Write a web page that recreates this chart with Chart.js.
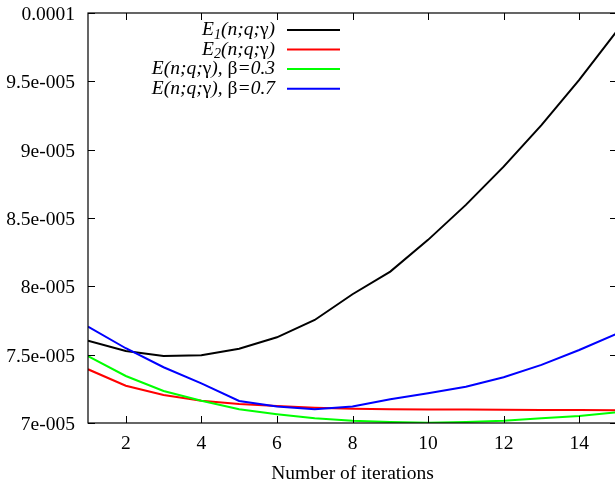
<!DOCTYPE html>
<html>
<head>
<meta charset="utf-8">
<script src="https://cdn.jsdelivr.net/npm/chart.js@4/dist/chart.umd.min.js"></script>
<style>
  html, body { margin: 0; padding: 0; background: #fff; overflow: hidden; }
  #wrap { width: 615px; height: 486px; overflow: hidden; }
</style>
</head>
<body>
<div id="wrap"><canvas id="chart" width="618" height="486"></canvas></div>
<script>
// ── données ──
var iterations = [1, 2, 3, 4, 5, 6, 7, 8, 9, 10, 11, 12, 13, 14, 15];

var e1Values = [7.602e-5, 7.527e-5, 7.490e-5, 7.496e-5, 7.544e-5, 7.627e-5, 7.754e-5, 7.942e-5,
                8.108e-5, 8.340e-5, 8.596e-5, 8.876e-5, 9.180e-5, 9.510e-5, 9.870e-5];
var e2Values = [7.393e-5, 7.273e-5, 7.205e-5, 7.163e-5, 7.139e-5, 7.124e-5, 7.112e-5, 7.105e-5,
                7.101e-5, 7.099e-5, 7.098e-5, 7.097e-5, 7.096e-5, 7.095e-5, 7.094e-5];
var beta03Values = [7.490e-5, 7.344e-5, 7.234e-5, 7.163e-5, 7.100e-5, 7.064e-5, 7.034e-5, 7.017e-5,
                    7.007e-5, 7.002e-5, 7.007e-5, 7.017e-5, 7.034e-5, 7.052e-5, 7.078e-5];
var beta07Values = [7.705e-5, 7.547e-5, 7.408e-5, 7.290e-5, 7.161e-5, 7.120e-5, 7.100e-5, 7.120e-5,
                    7.173e-5, 7.217e-5, 7.266e-5, 7.335e-5, 7.425e-5, 7.534e-5, 7.654e-5];

var xTickValues = [2, 4, 6, 8, 10, 12, 14];
var yTickLabels = ['7e-005', '7.5e-005', '8e-005', '8.5e-005', '9e-005', '9.5e-005', '0.0001'];

var SERIF = "'Liberation Serif', 'Times New Roman', serif";
var FONT_SIZE = 19.5;

// légende : segments [texte, italique, indice]
var legendRows = [
  { color: '#000000', parts: [['E', 1], ['1', 1, 1], ['(n;q;', 1], ['\u03b3', 0], [')', 1]] },
  { color: '#ff0000', parts: [['E', 1], ['2', 1, 1], ['(n;q;', 1], ['\u03b3', 0], [')', 1]] },
  { color: '#00ff00', parts: [['E(n;q;', 1], ['\u03b3', 0], ['), ', 1], ['\u03b2', 0], ['=0.3', 1]] },
  { color: '#0000ff', parts: [['E(n;q;', 1], ['\u03b3', 0], ['), ', 1], ['\u03b2', 0], ['=0.7', 1]] }
];

function partFont(p) {
  var size = p[2] ? 14 : 19.5;
  return (p[1] ? 'italic ' : '') + size + 'px ' + SERIF;
}

// ── cadre + graduations vers l'intérieur (style gnuplot) ──
var framePlugin = {
  id: 'frame',
  afterDatasetsDraw: function(chart) {
    var ctx = chart.ctx, a = chart.chartArea;
    var xs = chart.scales.x, ys = chart.scales.y;
    var len = 7;
    ctx.save();
    ctx.strokeStyle = '#000';
    ctx.lineWidth = 1.2;
    ctx.strokeRect(a.left, a.top, a.right - a.left, a.bottom - a.top);
    ctx.beginPath();
    xs.ticks.forEach(function(t) {
      var px = Math.round(xs.getPixelForValue(t.value)) + 0.5;
      ctx.moveTo(px, a.bottom); ctx.lineTo(px, a.bottom - len);
      ctx.moveTo(px, a.top); ctx.lineTo(px, a.top + len);
    });
    ys.ticks.forEach(function(t) {
      var py = Math.round(ys.getPixelForValue(t.value)) + 0.5;
      ctx.moveTo(a.left, py); ctx.lineTo(a.left + len, py);
      ctx.moveTo(a.right, py); ctx.lineTo(a.right - len, py);
    });
    ctx.lineWidth = 1;
    ctx.stroke();
    ctx.restore();
  },
  afterDraw: function(chart) {
    var ctx = chart.ctx;
    var textRight = 275, lineX0 = 287, lineX1 = 340;
    var rowY = [30, 49.5, 69, 88.7];
    ctx.save();
    ctx.textBaseline = 'middle';
    ctx.fillStyle = '#000';
    legendRows.forEach(function(row, i) {
      var total = 0;
      row.parts.forEach(function(p) { ctx.font = partFont(p); total += ctx.measureText(p[0]).width; });
      var x = textRight - total;
      row.parts.forEach(function(p) {
        ctx.font = partFont(p);
        ctx.fillText(p[0], x, rowY[i] + (p[2] ? 5 : 0));
        x += ctx.measureText(p[0]).width;
      });
      ctx.strokeStyle = row.color;
      ctx.lineWidth = 2;
      ctx.beginPath();
      ctx.moveTo(lineX0, rowY[i]);
      ctx.lineTo(lineX1, rowY[i]);
      ctx.stroke();
    });
    ctx.restore();
  }
};

function serie(label, values, color, order) {
  return {
    label: label,
    data: values,
    borderColor: color,
    backgroundColor: color,
    borderWidth: 2,
    pointRadius: 0,
    tension: 0,
    fill: false,
    order: order
  };
}

new Chart(document.getElementById('chart'), {
  type: 'line',
  data: {
    labels: iterations,
    datasets: [
      serie('E1(n;q;γ)', e1Values, '#000000', 4),
      serie('E2(n;q;γ)', e2Values, '#ff0000', 3),
      serie('E(n;q;γ), β=0.3', beta03Values, '#00ff00', 2),
      serie('E(n;q;γ), β=0.7', beta07Values, '#0000ff', 1)
    ]
  },
  options: {
    responsive: false,
    animation: false,
    devicePixelRatio: 1,
    layout: { padding: { top: 13, right: 1, left: 0, bottom: 0 } },
    plugins: { legend: { display: false }, tooltip: { enabled: false } },
    scales: {
      x: {
        type: 'linear',
        min: 1,
        max: 15,
        grid: { display: false },
        border: { display: false },
        afterBuildTicks: function(scale) {
          scale.ticks = xTickValues.map(function(v) { return { value: v }; });
        },
        afterFit: function(scale) {
          scale.height = 63;
          scale.paddingLeft = 0;
          scale.paddingRight = 0;
        },
        ticks: {
          color: '#000',
          font: { family: SERIF, size: FONT_SIZE },
          padding: 1,
          maxRotation: 0,
          callback: function(v) { return String(v); }
        },
        title: {
          display: true,
          text: 'Number of iterations',
          color: '#000',
          font: { family: SERIF, size: FONT_SIZE },
          padding: { top: 0, bottom: 0 }
        }
      },
      y: {
        min: 7e-5,
        max: 1e-4,
        grid: { display: false },
        border: { display: false },
        afterFit: function(scale) {
          scale.width = 88;
          scale.paddingTop = 0;
          scale.paddingBottom = 0;
        },
        ticks: {
          stepSize: 5e-6,
          color: '#000',
          font: { family: SERIF, size: FONT_SIZE },
          padding: 5,
          labelOffset: 2,
          callback: function(v, i) { return yTickLabels[i]; }
        }
      }
    }
  },
  plugins: [framePlugin]
});
</script>
</body>
</html>
